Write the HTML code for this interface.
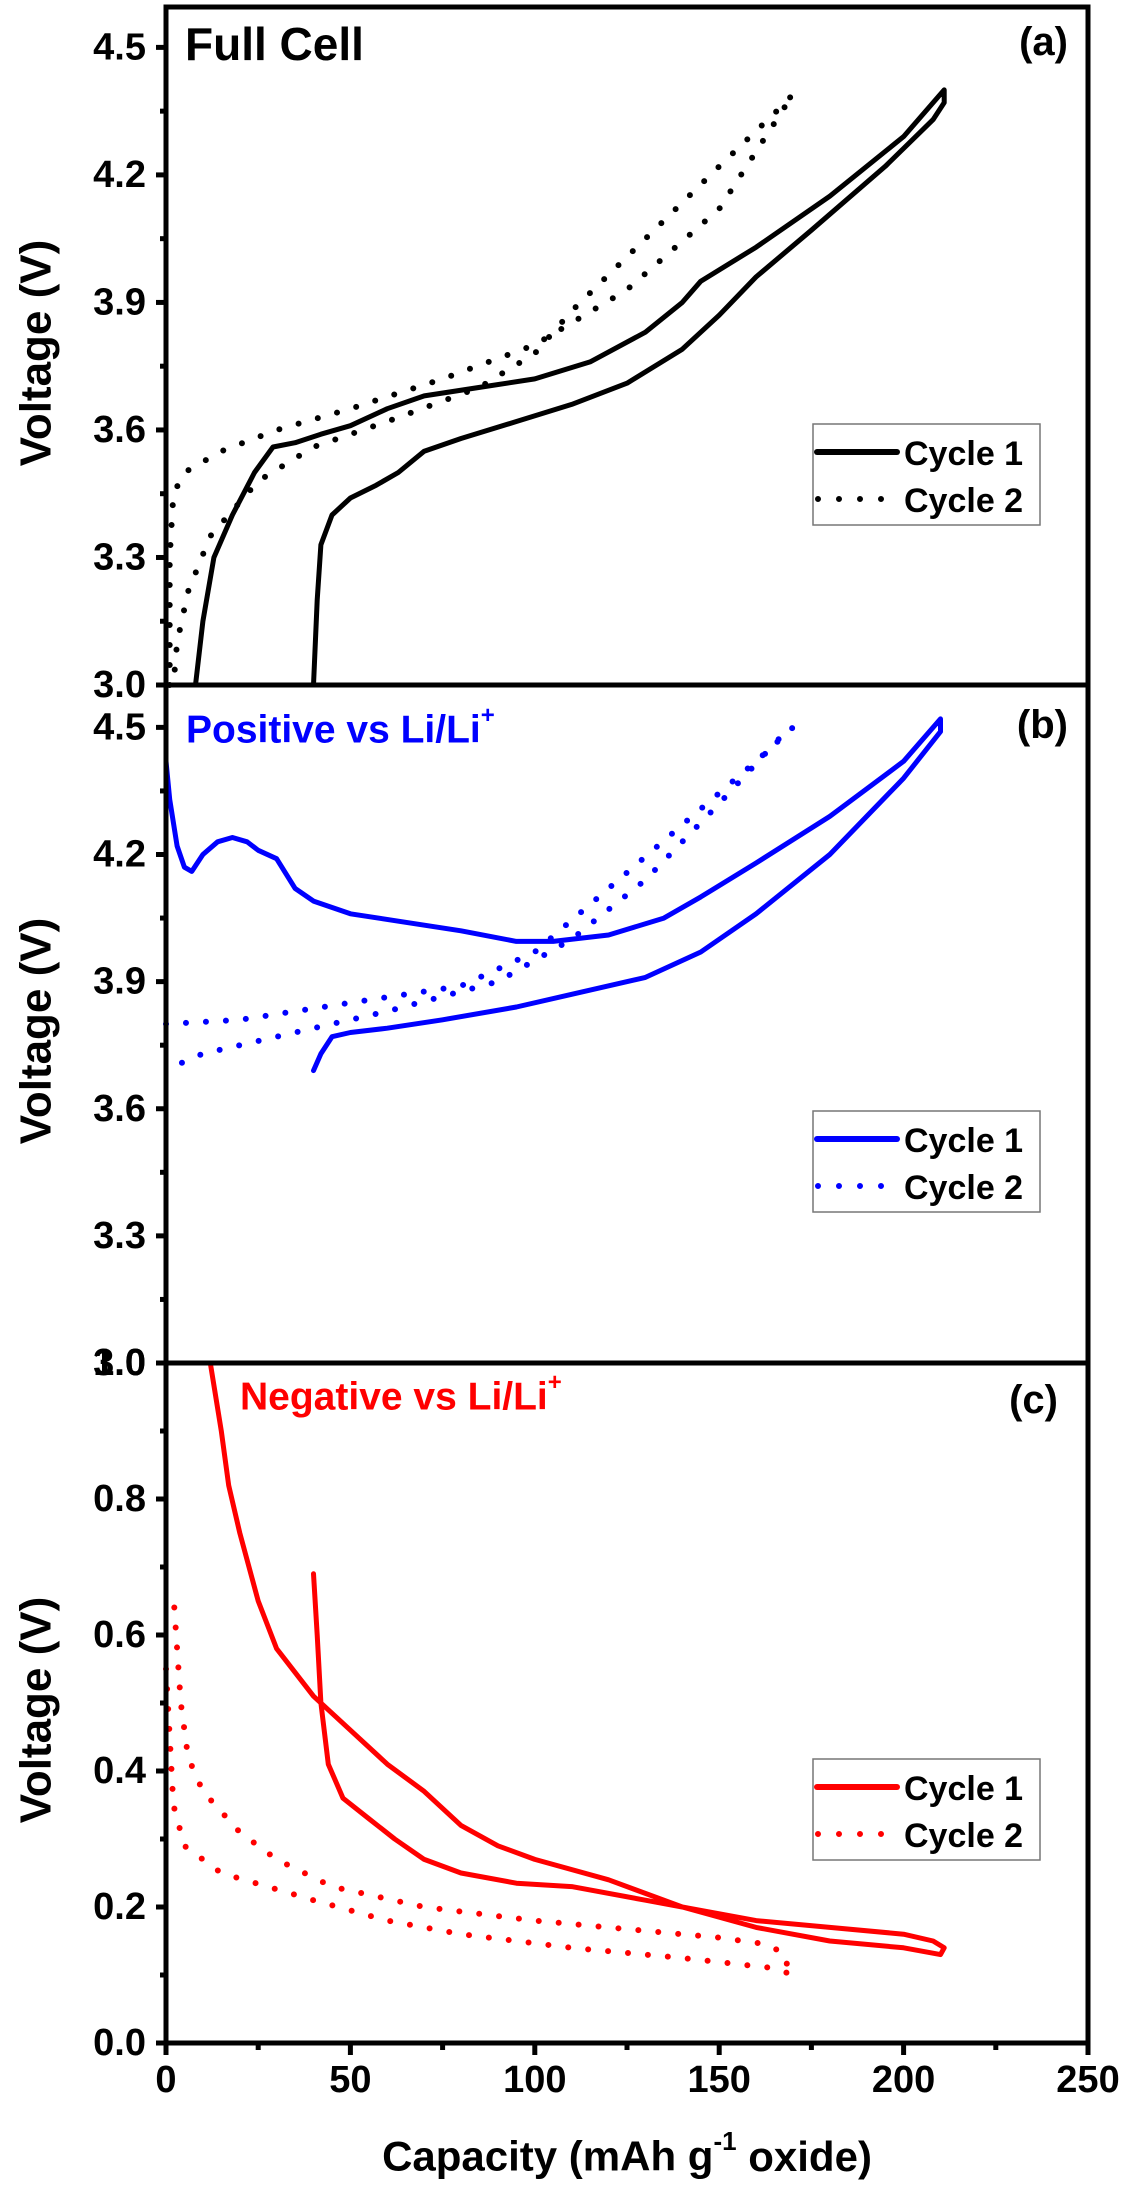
<!DOCTYPE html>
<html><head><meta charset="utf-8"><style>
html,body{margin:0;padding:0;background:#fff;}
svg{display:block;font-family:"Liberation Sans",Arial,sans-serif;font-weight:bold;}
</style></head><body>
<svg id="chart" width="1129" height="2200" viewBox="0 0 1129 2200" xmlns="http://www.w3.org/2000/svg">
<g id="marks"></g>
<g id="axes"></g>
</svg>
<script>
// Data: [capacity (mAh/g), voltage (V)]
const fullCycle1 = [[8,3.0],[10,3.15],[13,3.3],[18,3.4],[24,3.5],[29,3.56],[35,3.57],[42,3.59],[50,3.61],[60,3.65],[70,3.68],[85,3.70],[100,3.72],[115,3.76],[130,3.83],[140,3.90],[145,3.95],[160,4.03],[180,4.15],[200,4.29],[210,4.39],[211,4.40],[211,4.37],[208,4.33],[195,4.22],[175,4.07],[160,3.96],[150,3.87],[140,3.79],[125,3.71],[110,3.66],[95,3.62],[80,3.58],[70,3.55],[63,3.50],[57,3.47],[50,3.44],[45,3.40],[42,3.33],[41,3.2],[40,3.0]];
const fullCycle2 = [[1,3.0],[1,3.3],[2,3.45],[5,3.5],[15,3.55],[30,3.6],[50,3.65],[75,3.72],[100,3.80],[125,3.93],[150,4.12],[170,4.39],[168,4.37],[150,4.22],[130,4.05],[110,3.88],[100,3.78],[85,3.70],[60,3.62],[40,3.56],[25,3.48],[12,3.35],[6,3.22],[3,3.1],[2,3.0]];
const posCycle1 = [[0,3.45],[0,4.42],[1,4.33],[3,4.22],[5,4.17],[7,4.16],[10,4.2],[14,4.23],[18,4.24],[22,4.23],[25,4.21],[30,4.19],[35,4.12],[40,4.09],[50,4.06],[65,4.04],[80,4.02],[95,3.995],[105,3.995],[120,4.01],[135,4.05],[145,4.1],[160,4.18],[180,4.29],[200,4.42],[210,4.52],[210,4.49],[200,4.38],[180,4.2],[160,4.06],[145,3.97],[130,3.91],[110,3.87],[95,3.84],[75,3.81],[60,3.79],[50,3.78],[45,3.77],[42,3.73],[40,3.69]];
const posCycle2 = [[0,3.80],[20,3.81],[50,3.85],[80,3.89],[100,3.97],[120,4.12],[140,4.27],[160,4.42],[170,4.5],[168,4.49],[150,4.32],[130,4.14],[110,4.0],[90,3.9],[60,3.83],[30,3.77],[10,3.73],[2,3.70]];
const negCycle1 = [[12,1.0],[15,0.9],[17,0.82],[20,0.75],[25,0.65],[30,0.58],[40,0.51],[50,0.46],[60,0.41],[70,0.37],[80,0.32],[90,0.29],[100,0.27],[120,0.24],[140,0.20],[160,0.18],[180,0.17],[200,0.16],[208,0.15],[211,0.14],[210,0.13],[200,0.14],[180,0.15],[160,0.17],[140,0.20],[130,0.21],[110,0.23],[95,0.235],[80,0.25],[70,0.27],[62,0.30],[55,0.33],[48,0.36],[44,0.41],[42,0.5],[41,0.6],[40,0.69]];
const negCycle2 = [[0,0.55],[2,0.35],[5,0.29],[15,0.25],[40,0.21],[60,0.18],[80,0.16],[110,0.14],[140,0.125],[165,0.11],[170,0.10],[170,0.10],[168,0.12],[168,0.13],[163,0.145],[150,0.155],[130,0.165],[100,0.18],[70,0.20],[45,0.23],[30,0.27],[20,0.31],[10,0.37],[6,0.42],[4,0.5],[2,0.66]];
const xTicks = [0,50,100,150,200,250];
const ticksA = [3.0,3.3,3.6,3.9,4.2,4.5];
const ticksB = [3.0,3.3,3.6,3.9,4.2,4.5];
const ticksC = [0.0,0.2,0.4,0.6,0.8];

const NS = 'http://www.w3.org/2000/svg';
const X0 = 166, X1 = 1088;
const xs = c => X0 + c * (X1 - X0) / 250;
const panels = [
  {id:'a', top:7, bottom:685, vmin:3.0, vmax:4.595},
  {id:'b', top:685, bottom:1363, vmin:3.0, vmax:4.6},
  {id:'c', top:1363, bottom:2043, vmin:0.0, vmax:1.0}
];
const ys = (p, v) => p.bottom - (v - p.vmin) * (p.bottom - p.top) / (p.vmax - p.vmin);
const marks = document.getElementById('marks');
const axes = document.getElementById('axes');
function mk(tag, attrs, parent) {
  const e = document.createElementNS(NS, tag);
  for (const k in attrs) e.setAttribute(k, attrs[k]);
  parent.appendChild(e);
  return e;
}
function series(p, data, color, dotted, name) {
  const d = data.map((pt, i) => (i ? 'L' : 'M') + xs(pt[0]).toFixed(1) + ' ' + ys(p, pt[1]).toFixed(1)).join(' ');
  const el = mk('path', {d: d, fill: 'none', stroke: color, 'stroke-width': dotted ? 6 : 5, 'stroke-linecap': 'round', 'stroke-linejoin': 'round'}, marks);
  if (dotted) el.setAttribute('stroke-dasharray', '0 20');
  
  
}
function text(x, y, s, size, color, anchor, name) {
  const t = mk('text', {x: x, y: y, 'font-size': size, fill: color, 'text-anchor': anchor, 'dominant-baseline': 'central'}, axes);
  t.textContent = s;
  
  
  return t;
}
function yAxis(p, ticks) {
  ticks.forEach((v, i) => {
    const y = ys(p, v);
    const tk = mk('line', {x1: X0 - 10, x2: X0, y1: y, y2: y, stroke: '#000', 'stroke-width': 5}, axes);
    
    
    text(146, y, v.toFixed(1), 38, '#000', 'end', 'y-tick-label-' + p.id);
    const step = i < ticks.length - 1 ? ticks[i + 1] - v : ticks[1] - ticks[0];
    const mv = v + step / 2;
    if (mv < p.vmax) {
      const my = ys(p, mv);
      const mt = mk('line', {x1: X0 - 6, x2: X0, y1: my, y2: my, stroke: '#000', 'stroke-width': 5}, axes);
      
      
    }
  });
  const fr = mk('rect', {x: X0, y: p.top, width: X1 - X0, height: p.bottom - p.top, fill: 'none', stroke: '#000', 'stroke-width': 5}, axes);
  
  
  const cy = (p.top + p.bottom) / 2 + 7;
  text(36, cy, 'Voltage (V)', 44, '#000', 'middle', 'y-axis-title-' + p.id)
    .setAttribute('transform', 'rotate(-90 36 ' + cy + ')');
}
function legend(y0, color, name) {
  const g = mk('g', {}, axes);
  
  
  mk('rect', {x: 813, y: y0, width: 227, height: 101, fill: '#fff', stroke: '#777', 'stroke-width': 1.5}, g);
  mk('line', {x1: 817, x2: 897, y1: y0 + 28, y2: y0 + 28, stroke: color, 'stroke-width': 6, 'stroke-linecap': 'round'}, g);
  mk('line', {x1: 818, x2: 885, y1: y0 + 75, y2: y0 + 75, stroke: color, 'stroke-width': 6, 'stroke-linecap': 'round', 'stroke-dasharray': '0 21'}, g);
  const t1 = mk('text', {x: 904, y: y0 + 30, 'font-size': 34, 'dominant-baseline': 'central'}, g); t1.textContent = 'Cycle 1';
  const t2 = mk('text', {x: 904, y: y0 + 77, 'font-size': 34, 'dominant-baseline': 'central'}, g); t2.textContent = 'Cycle 2';
}

const [pa, pb, pc] = panels;
series(pa, fullCycle1, '#000', false, 'full-cell-cycle-1');
series(pa, fullCycle2, '#000', true, 'full-cell-cycle-2');
series(pb, posCycle1, '#0000ff', false, 'positive-cycle-1');
series(pb, posCycle2, '#0000ff', true, 'positive-cycle-2');
series(pc, negCycle1, '#ff0000', false, 'negative-cycle-1');
series(pc, negCycle2, '#ff0000', true, 'negative-cycle-2');

yAxis(pa, ticksA);
yAxis(pb, ticksB);
yAxis(pc, ticksC);
text(146, pc.top, '1.0', 38, '#000', 'end', 'y-tick-label-c-top');
const ct = mk('line', {x1: X0 - 10, x2: X0, y1: pc.top, y2: pc.top, stroke: '#000', 'stroke-width': 5}, axes);



xTicks.forEach((c, i) => {
  const x = xs(c);
  const t = mk('line', {x1: x, x2: x, y1: pc.bottom, y2: pc.bottom + 12, stroke: '#000', 'stroke-width': 5}, axes);
  
  
  text(x, 2080, String(c), 38, '#000', 'middle', 'x-tick-label');
  if (i < xTicks.length - 1) {
    const mx = xs(c + (xTicks[1] - xTicks[0]) / 2);
    const m = mk('line', {x1: mx, x2: mx, y1: pc.bottom, y2: pc.bottom + 7, stroke: '#000', 'stroke-width': 5}, axes);
    
    
  }
});
const xt = mk('text', {x: 627, y: 2156, 'font-size': 42, 'text-anchor': 'middle', 'dominant-baseline': 'central'}, axes);
xt.innerHTML = 'Capacity (mAh g<tspan dy="-15" font-size="26">-1</tspan><tspan dy="15"> oxide)</tspan>';



text(185, 44, 'Full Cell', 46, '#000', 'start', 'panel-a-title');
text(1068, 42, '(a)', 40, '#000', 'end', 'panel-a-label');
const pt = text(186, 730, 'Positive vs Li/Li', 39, '#0000ff', 'start', 'panel-b-title');
const sp = mk('tspan', {dy: -15, 'font-size': 24}, pt); sp.textContent = '+';
text(1068, 725, '(b)', 40, '#000', 'end', 'panel-b-label');
const nt = text(240, 1397, 'Negative vs Li/Li', 39, '#ff0000', 'start', 'panel-c-title');
const sn = mk('tspan', {dy: -15, 'font-size': 24}, nt); sn.textContent = '+';
text(1058, 1400, '(c)', 40, '#000', 'end', 'panel-c-label');

legend(424, '#000', 'legend-a');
legend(1111, '#0000ff', 'legend-b');
legend(1759, '#ff0000', 'legend-c');
</script>
</body></html>
